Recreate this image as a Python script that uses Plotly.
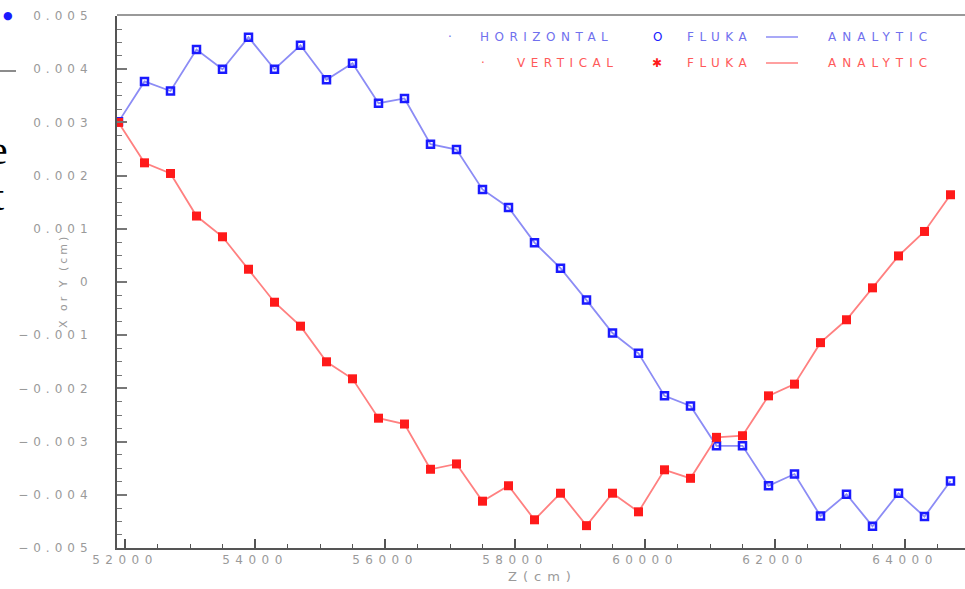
import plotly.graph_objects as go

# ---- data ----
z_cm = [51900, 52300, 52700, 53100, 53500, 53900, 54300, 54700, 55100, 55500,
        55900, 56300, 56700, 57100, 57500, 57900, 58300, 58700, 59100, 59500,
        59900, 60300, 60700, 61100, 61500, 61900, 62300, 62700, 63100, 63500,
        63900, 64300, 64700]
horizontal = [0.00301, 0.00377, 0.00359, 0.00437, 0.00400, 0.00460, 0.00400, 0.00445,
              0.00380, 0.00411, 0.00336, 0.00345, 0.00259, 0.00249, 0.00174, 0.00140,
              0.00074, 0.00026, -0.00034, -0.00096, -0.00134, -0.00214, -0.00233,
              -0.00308, -0.00308, -0.00383, -0.00361, -0.00440, -0.00399, -0.00459,
              -0.00397, -0.00441, -0.00374]
vertical = [0.00300, 0.00224, 0.00204, 0.00124, 0.00085, 0.00024, -0.00038, -0.00083,
            -0.00150, -0.00182, -0.00256, -0.00267, -0.00352, -0.00342, -0.00412,
            -0.00383, -0.00447, -0.00397, -0.00458, -0.00397, -0.00432, -0.00353,
            -0.00369, -0.00292, -0.00289, -0.00214, -0.00192, -0.00114, -0.00071,
            -0.00011, 0.00049, 0.00095, 0.00164]
x_ticks = [52000, 54000, 56000, 58000, 60000, 62000, 64000]
y_ticks = [-0.005, -0.004, -0.003, -0.002, -0.001, 0, 0.001, 0.002, 0.003, 0.004, 0.005]

W, H = 965, 589
L, R, T, B = 117, 965, 16, 548

def px(x):
    return (x - L) / (R - L)

def py(y):
    return (B - y) / (B - T)

BLUE_LINE = "#8c8cf5"
BLUE = "#1a1aff"
RED_LINE = "#ff8080"
RED = "#ff1a1a"
GRAY = "#9a9a9a"
FONT = "DejaVu Sans"

def spaced(t, s=4):
    return f'<span style="letter-spacing:{s}px">{t}</span>'

def fmt_y(v):
    if v == 0:
        return "0"
    s = f"{abs(v):.3f}"
    return ("\u2212" if v < 0 else "") + s

fig = go.Figure()
fig.add_trace(go.Scatter(
    x=z_cm, y=horizontal, mode="lines+markers",
    line=dict(color=BLUE_LINE, width=1.8),
    marker=dict(symbol="square-open", size=7, color=BLUE, line=dict(color=BLUE, width=2.5)),
    showlegend=False))
fig.add_trace(go.Scatter(
    x=z_cm, y=vertical, mode="lines+markers",
    line=dict(color=RED_LINE, width=1.8),
    marker=dict(symbol="square", size=9, color=RED),
    showlegend=False))

fig.update_layout(
    width=W, height=H,
    margin=dict(l=L, r=W - R, t=T, b=H - B, pad=0),
    paper_bgcolor="white", plot_bgcolor="white",
    font=dict(family=FONT, color=GRAY, size=12),
    xaxis=dict(
        range=[51877, 64923], showgrid=False, zeroline=False,
        showline=True, linecolor="#555555", linewidth=2,
        ticks="inside", ticklen=9, tickwidth=1.5, tickcolor="#555555",
        tickvals=x_ticks, ticktext=[spaced(str(v), 5.5) for v in x_ticks],
        tickfont=dict(family=FONT, size=12, color=GRAY),
        minor=dict(dtick=500, tick0=52000, ticks="inside", ticklen=4, tickcolor="#555555", tickwidth=1),
    ),
    yaxis=dict(
        range=[-0.005, 0.005], showgrid=False, zeroline=False,
        showline=True, linecolor="#555555", linewidth=2,
        ticks="inside", ticklen=10, tickwidth=1.5, tickcolor="#777777",
        tickvals=y_ticks, ticktext=[spaced(fmt_y(v), 5) for v in y_ticks],
        tickfont=dict(family=FONT, size=12, color=GRAY),
        ticklabelstandoff=20,
        minor=dict(dtick=0.00025, tick0=0, ticks="inside", ticklen=5, tickcolor="#777777", tickwidth=1),
    ),
)

# top border
fig.add_shape(type="line", xref="paper", yref="paper", x0=0, x1=1, y0=1.002, y1=1.002,
              line=dict(color="#999999", width=2))

ann = []

def note(text, xc, yc, color, size=12, family=FONT, anchor="left", angle=0):
    ann.append(dict(text=text, x=px(xc), y=py(yc), xref="paper", yref="paper",
                    xanchor=anchor, yanchor="middle", showarrow=False, textangle=angle,
                    font=dict(family=family, size=size, color=color)))

# axis titles
note(spaced("Z(cm)", 6), 542, 576, GRAY, size=13, anchor="center")
note(spaced("X or Y (cm)", 3), 63, 281, GRAY, size=11, anchor="center", angle=-90)

# legend rows
LB = "#7070ee"
LR = "#ff5a5a"
note("·", 450, 37, LB, anchor="center")
note(spaced("HORIZONTAL", 5.5), 478, 37, LB)
note("O", 657, 37, BLUE, anchor="center")
note(spaced("FLUKA", 5.5), 685, 37, LB)
note(spaced("ANALYTIC", 6), 826, 37, LB)
note("·", 483, 63, LR, anchor="center")
note(spaced("VERTICAL", 5.5), 515, 63, LR)
note("\u2731", 657, 63, RED, anchor="center")
note(spaced("FLUKA", 5.5), 685, 63, LR)
note(spaced("ANALYTIC", 6), 826, 63, LR)

# clipped artifacts on the left edge
note("e", 10, 150, "black", size=42, family="Liberation Serif", anchor="right")
note("t", 6, 196, "black", size=40, family="Liberation Serif", anchor="right")
note("\u25cf", 8, 15, BLUE, size=11, anchor="center")
fig.update_layout(annotations=ann)

# legend line samples
for yc, col in [(37, BLUE_LINE), (63, RED_LINE)]:
    fig.add_shape(type="line", xref="paper", yref="paper", x0=px(766), x1=px(798),
                  y0=py(yc), y1=py(yc), line=dict(color=col, width=1.5))
# left-edge tick artifact
fig.add_shape(type="line", xref="paper", yref="paper", x0=px(0), x1=px(16),
              y0=py(71), y1=py(71), line=dict(color="#666666", width=1.5))

fig.write_html("out.html")
